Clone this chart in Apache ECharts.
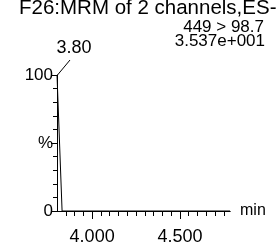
<!DOCTYPE html>
<html>
<head>
<meta charset="utf-8">
<script src="https://cdn.jsdelivr.net/npm/echarts@6/dist/echarts.min.js"></script>
<style>html,body{margin:0;padding:0;background:#fff}#c{width:277px;height:246px}</style>
</head>
<body>
<div id="c"></div>
<script>
var titleLines = ['F26:MRM of 2 channels,ES-', '449 > 98.7', '3.537e+001'];
var times = [3.800, 3.829, 4.100, 4.400, 4.785];
var intensity = [100, 0, 0, 0, 0];
var peakTime = [3.800];
var peakValue = [100];
var peakLabel = ['3.80'];
var xMajorTicks = [4.0, 4.5];
var xMajorLabels = ['4.000', '4.500'];
var xMinorTicks = [3.85, 3.90, 3.95, 4.05, 4.10, 4.15, 4.20, 4.25, 4.30, 4.35, 4.40, 4.45, 4.55, 4.60, 4.65, 4.70, 4.75];
var yLabels = {0: '0', 50: '%', 100: '100'};

var font = '"Liberation Sans", Arial, Helvetica, sans-serif';
var chart = echarts.init(document.getElementById('c'), null, {renderer: 'canvas'});
var pts = times.map(function (t, i) { return [t, intensity[i]]; });
var xBase = {
  type: 'value', min: 3.80, max: 4.785, gridIndex: 0,
  splitLine: {show: false},
  axisLine: {show: true, onZero: false, lineStyle: {color: '#000', width: 1}}
};
var ts = function (size) { return {fontFamily: font, fontSize: size, fontWeight: 'normal', color: '#000'}; };
chart.setOption({
  animation: false,
  title: [
    {text: titleLines[0], left: 19, top: -2, textStyle: ts(20.5), padding: 0},
    {text: titleLines[1], right: 13, top: 19, textStyle: ts(17), padding: 0},
    {text: titleLines[2], right: 12, top: 33, textStyle: ts(17), padding: 0}
  ],
  grid: {left: 57, right: 47, top: 75, bottom: 33, containLabel: false},
  xAxis: [
    Object.assign({}, xBase, {
      name: 'min', nameLocation: 'end', nameGap: 10,
      nameTextStyle: Object.assign(ts(16), {verticalAlign: 'middle', padding: [3, 0, 0, 0]}),
      axisTick: {show: true, length: 8, customValues: xMajorTicks, lineStyle: {color: '#000'}},
      axisLabel: Object.assign(ts(18), {show: true, customValues: xMajorTicks, margin: 17,
        formatter: function (v) { var i = xMajorTicks.indexOf(v); return i >= 0 ? xMajorLabels[i] : ''; }})
    }),
    Object.assign({}, xBase, {
      position: 'bottom',
      axisTick: {show: true, length: 5, customValues: xMinorTicks, lineStyle: {color: '#000'}},
      axisLabel: {show: false}
    })
  ],
  yAxis: {
    type: 'value', min: 0, max: 100, interval: 50,
    splitLine: {show: false},
    axisLine: {show: true, lineStyle: {color: '#000', width: 1}},
    axisTick: {show: true, length: 6, lineStyle: {color: '#000'}},
    minorTick: {show: true, splitNumber: 5, length: 4, lineStyle: {color: '#000'}},
    axisLabel: Object.assign(ts(17), {margin: 4,
      formatter: function (v) { return yLabels[v] !== undefined ? yLabels[v] : ''; }})
  },
  series: [{
    type: 'line', xAxisIndex: 0, yAxisIndex: 0, data: pts,
    symbol: 'none', showSymbol: false, clip: false,
    lineStyle: {color: '#000', width: 1}
  }]
});
var graphics = [];
peakTime.forEach(function (t, i) {
  var p = chart.convertToPixel({xAxisIndex: 0, yAxisIndex: 0}, [t, peakValue[i]]);
  graphics.push({type: 'line', shape: {x1: p[0] + 0.5, y1: p[1], x2: p[0] + 13, y2: p[1] - 15},
    style: {stroke: '#000', lineWidth: 1}, silent: true});
  graphics.push({type: 'text', x: p[0] + 17, y: p[1] - 27,
    style: Object.assign({text: peakLabel[i], align: 'center', verticalAlign: 'middle',
      font: '18px ' + font, fill: '#000'}), silent: true});
});
chart.setOption({graphic: graphics});
</script>
</body>
</html>
